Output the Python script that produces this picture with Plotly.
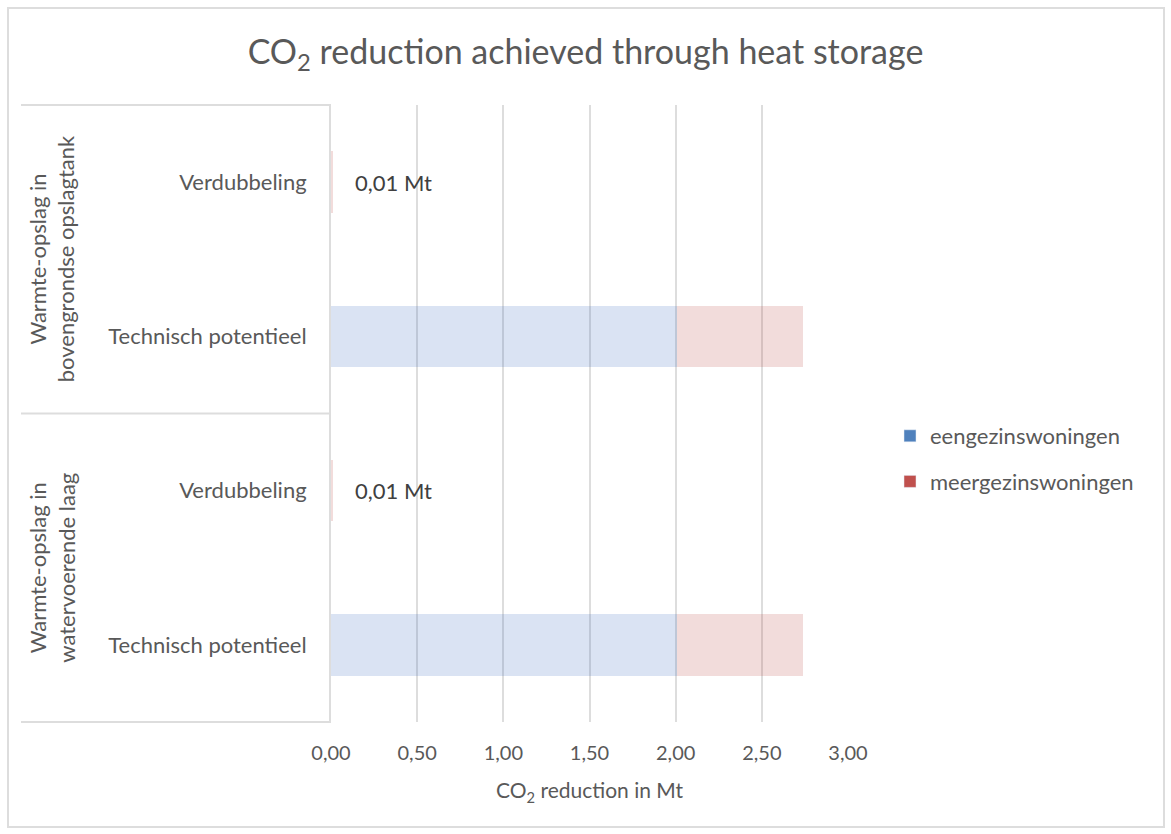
import plotly.graph_objects as go

# ---- data ----
groups = ["Warmte-opslag in<br>bovengrondse opslagtank", "Warmte-opslag in<br>watervoerende laag"]
subcats = ["Verdubbeling", "Technisch potentieel"]
eengezins = [0.0, 2.01, 0.0, 2.01]
meergezins = [0.01, 0.73, 0.01, 0.73]
tick_labels = ["Verdubbeling", "Technisch potentieel", "Verdubbeling", "Technisch potentieel"]
x_ticks = [0, 0.5, 1.0, 1.5, 2.0, 2.5, 3.0]
x_tick_text = ["0,00", "0,50", "1,00", "1,50", "2,00", "2,50", "3,00"]
label_rows = [0, 2]  # rows with total data labels

cat_ids = [f"{g}|{s}" for g in groups for s in subcats]

FONT = "Lato"
GRAY = "#595959"
GRID = "#DDDDDD"

fig = go.Figure()
fig.add_trace(go.Bar(y=cat_ids, x=eengezins, orientation="h", name="eengezinswoningen",
                     marker=dict(color="rgba(68,114,196,0.2)", line=dict(width=0)),
                     showlegend=False, width=0.4))
fig.add_trace(go.Bar(y=cat_ids, x=meergezins, orientation="h", name="meergezinswoningen",
                     marker=dict(color="rgba(192,80,77,0.2)", line=dict(width=0)),
                     showlegend=False, width=0.4))
# legend-only entries
fig.add_trace(go.Bar(y=[None], x=[None], orientation="h", name="eengezinswoningen",
                     marker=dict(color="#4F81BD"), legendgroup="a"))
fig.add_trace(go.Bar(y=[None], x=[None], orientation="h", name="meergezinswoningen",
                     marker=dict(color="#C0504D"), legendgroup="b"))

# data labels
for i in label_rows:
    tot = eengezins[i] + meergezins[i]
    fig.add_annotation(x=tot, y=cat_ids[i], xref="x", yref="y",
                       text=f"{tot:.2f}".replace(".", ",") + " Mt",
                       showarrow=False, xanchor="left", yanchor="middle", xshift=20,
                       font=dict(family=FONT, size=22, color="#404040"))

L = 331; R = 848; T = 105; B = 722
W = R - L; H = B - T
def px(x): return (x - L) / W
def py(y): return (B - y) / H

# group labels
for j, g in enumerate(groups):
    fig.add_annotation(x=px(52), y=0.75 - 0.5 * j, xref="paper", yref="paper",
                       text=g, textangle=-90, showarrow=False,
                       xanchor="center", yanchor="middle",
                       font=dict(family=FONT, size=22, color=GRAY))

shapes = []
for yy in [T, (T + B) / 2, B]:
    shapes.append(dict(type="line", xref="paper", yref="paper", x0=px(21), x1=0,
                       y0=py(yy), y1=py(yy), line=dict(color=GRID, width=2)))
# chart frame
shapes.append(dict(type="rect", xref="paper", yref="paper", x0=px(8), x1=px(1164),
                   y0=py(827), y1=py(8), line=dict(color=GRID, width=2), layer="below"))

fig.update_layout(
    width=1171, height=834,
    margin=dict(l=L, r=1171 - R, t=T, b=834 - B),
    paper_bgcolor="white", plot_bgcolor="white",
    barmode="stack",
    title=dict(text="CO<sub>2</sub> reduction achieved through heat storage",
               x=0.5, xref="container", xanchor="center", y=1 - 52 / 834, yanchor="middle",
               font=dict(family=FONT, size=34, color=GRAY)),
    font=dict(family=FONT, size=22, color=GRAY),
    xaxis=dict(range=[0, 3.0], tickvals=x_ticks, ticktext=x_tick_text,
               showgrid=True, gridcolor=GRID, gridwidth=2, zeroline=False,
               showline=False, ticks="", tickfont=dict(size=20, color=GRAY),
               title=dict(text="CO<sub>2</sub> reduction in Mt", font=dict(size=21, color=GRAY), standoff=20),
               ticklabelstandoff=17),
    yaxis=dict(type="category", categoryorder="array", categoryarray=cat_ids,
               autorange="reversed", tickvals=cat_ids, ticktext=tick_labels,
               showgrid=False, showline=True, linecolor=GRID, linewidth=2,
               ticks="", tickfont=dict(size=22, color=GRAY), ticklabelstandoff=18),
    legend=dict(x=px(890), y=py(459), xanchor="left", yanchor="middle",
                font=dict(size=22, color=GRAY), tracegroupgap=14,
                bgcolor="rgba(0,0,0,0)"),
    shapes=shapes,
    bargap=0.6,
)

fig.write_html("out.html")
